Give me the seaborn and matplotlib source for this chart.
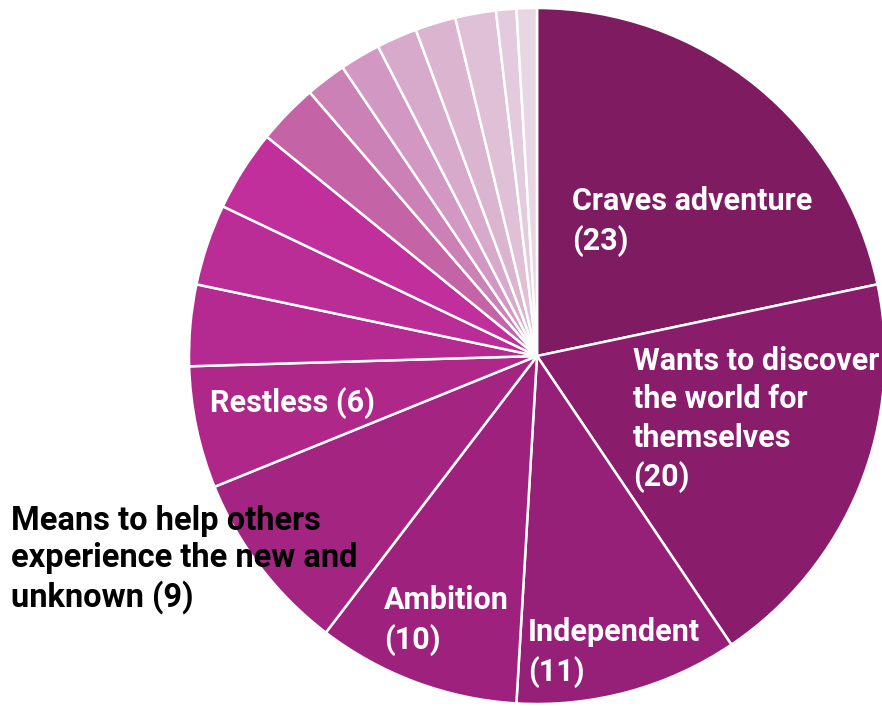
import matplotlib
matplotlib.use("Agg")
import matplotlib.pyplot as plt
import seaborn as sns

sns.set_theme(style="white")
plt.rcParams["font.family"] = ["Roboto", "DejaVu Sans"]

# Reasons, largest first; the long tail of minor reasons is left unlabelled
categories = [
    "Craves adventure",
    "Wants to discover\nthe world for\nthemselves",
    "Independent",
    "Ambition",
    "Means to help others\nexperience the new and\nunknown",
    "Restless",
]
values = [23, 20, 11, 10, 9, 6, 4, 4, 4, 3, 2, 2, 2, 2, 2, 1, 1]
colors = [
    "#7F1B60", "#891C6B", "#961F77", "#9D217D", "#A42482", "#AE2789",
    "#B42A91", "#BA2C96", "#C02F9B", "#C464A6", "#CB80B6", "#D297C2",
    "#D7A9CA", "#DBB5CF", "#DFC0D6", "#E3CADC", "#E8D6E3",
]

W, H = 882, 706
fig = plt.figure(figsize=(W / 100, H / 100), dpi=100)
cx, cy, r = 537, 356, 348
ax = fig.add_axes([(cx - r) / W, (H - cy - r) / H, 2 * r / W, 2 * r / H])

ax.pie(
    values,
    colors=colors,
    startangle=90,
    counterclock=False,
    radius=1,
    wedgeprops=dict(edgecolor="white", linewidth=1.8),
)
ax.set_xlim(-1, 1)
ax.set_ylim(-1, 1)
ax.set_aspect("equal")
ax.axis("off")


def px(x, y):
    """Pixel position in the figure to data coordinates of the pie."""
    return (x - cx) / r, (cy - y) / r


label_pos = [(572, 186), (633, 346), (528, 617), (384, 585), (11, 505), (210, 387)]
label_col = ["white", "white", "white", "white", "black", "white"]
label_sep = ["\n", "\n", "\n", "\n", " ", " "]
label_size = [22, 22, 22, 22, 23.5, 22]
label_lsp = [1.35, 1.35, 1.35, 1.35, 1.22, 1.35]
for name, val, (x, y), c, sep, fs, ls in zip(categories, values, label_pos,
                                              label_col, label_sep, label_size, label_lsp):
    tx, ty = px(x, y)
    ax.text(tx, ty, f"{name}{sep}({val})",
            color=c, fontsize=fs, fontweight="bold", ha="left", va="top",
            linespacing=ls, clip_on=False)

fig.savefig("out.png", dpi=100, facecolor="white")
